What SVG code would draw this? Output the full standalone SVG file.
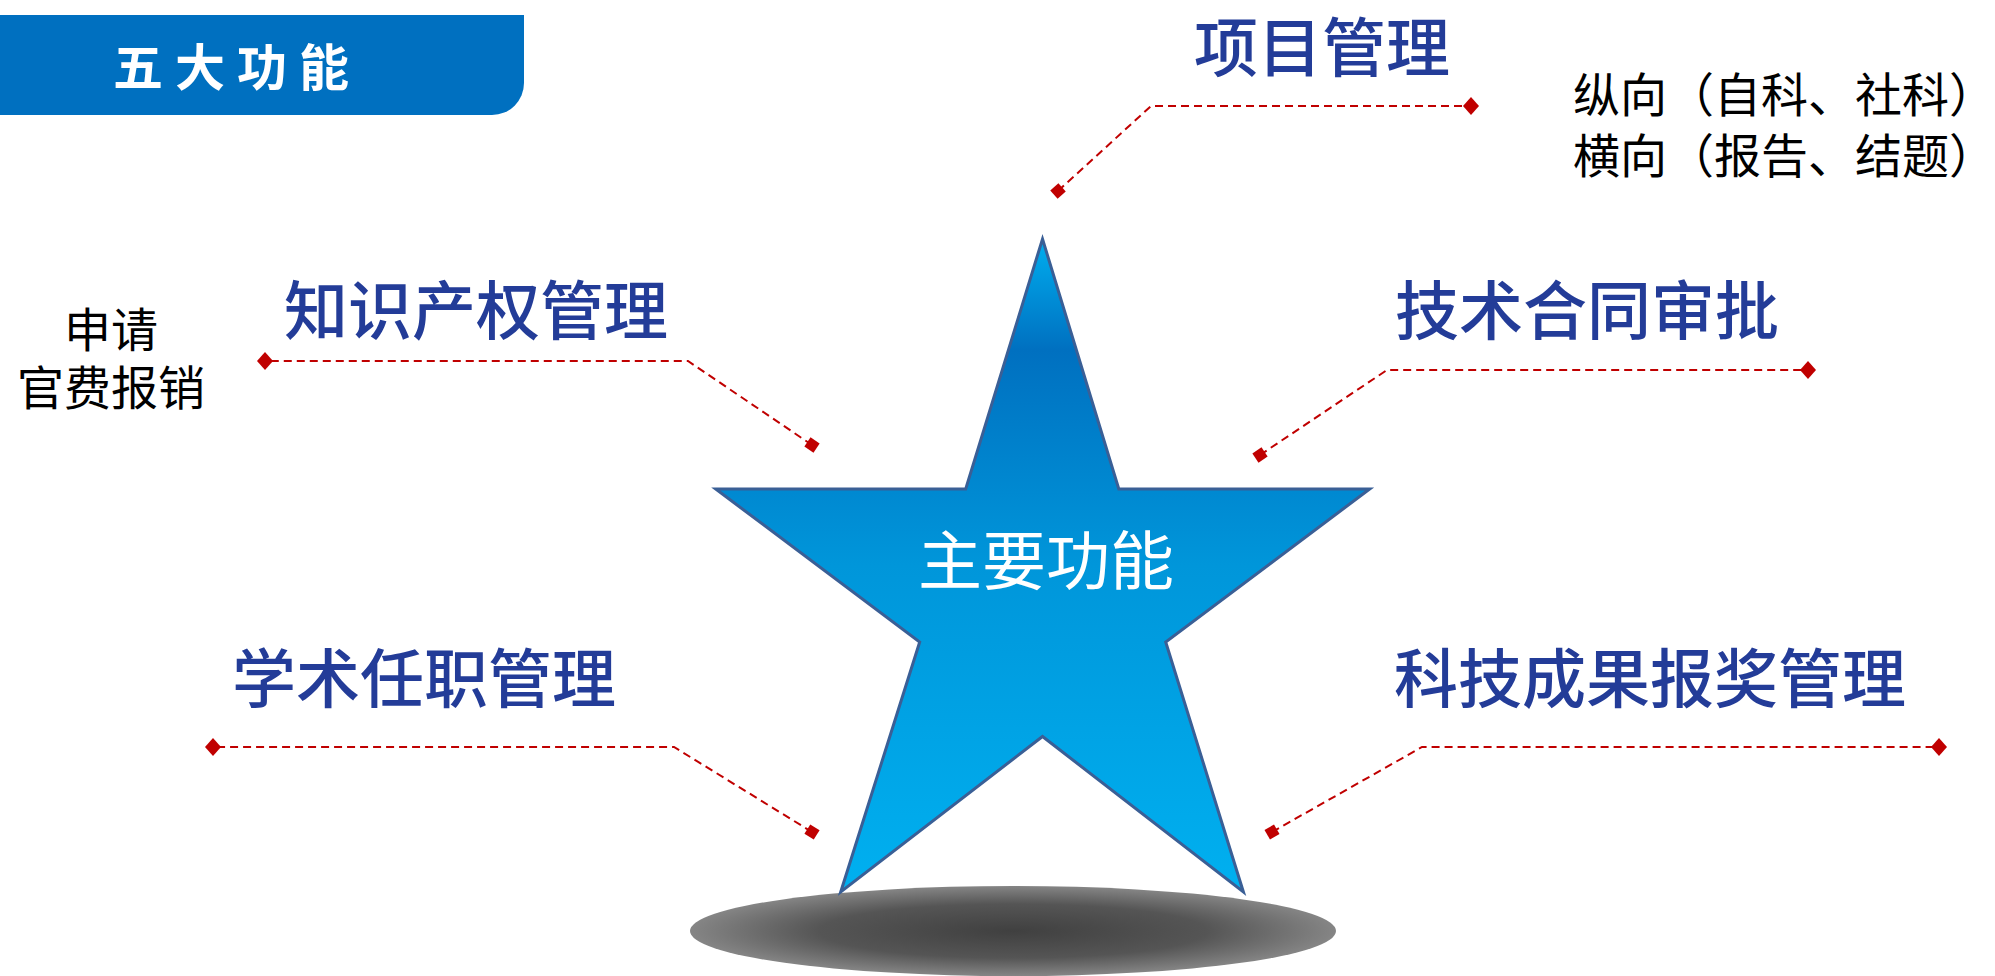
<svg xmlns="http://www.w3.org/2000/svg" width="1995" height="976" viewBox="0 0 1995 976">
  <defs>
    <linearGradient id="starGrad" x1="0" y1="239" x2="0" y2="892" gradientUnits="userSpaceOnUse">
      <stop offset="0" stop-color="#00AEEF"/>
      <stop offset="0.17" stop-color="#0070C0"/>
      <stop offset="0.5" stop-color="#0096DA"/>
      <stop offset="1" stop-color="#00B0F0"/>
    </linearGradient>
    <radialGradient id="shadowGrad" cx="0.5" cy="0.5" r="0.5">
      <stop offset="0" stop-color="#404040"/>
      <stop offset="0.6" stop-color="#555555"/>
      <stop offset="1" stop-color="#858585"/>
    </radialGradient>
    <style>
      .label { font-family: "Noto Sans CJK SC", "Noto Sans", sans-serif; font-size: 64px; font-weight: 500; fill: #233C98; }
      .note { font-family: "Noto Sans CJK SC", "Noto Sans", sans-serif; font-size: 47px; fill: #000000; }
      .link { fill: none; stroke: #C00000; stroke-width: 2; stroke-dasharray: 8 5; }
      .dot { fill: #C00000; }
    </style>
  </defs>

  <g id="header">
    <path d="M0 15 H524 V83 A32 32 0 0 1 492 115 H0 Z" fill="#0070C0"/>
    <text x="113" y="86" font-family="Noto Sans CJK SC, sans-serif" font-size="50" font-weight="700" fill="#FFFFFF" letter-spacing="12">五大功能</text>
  </g>

  <g id="shadow">
    <ellipse cx="1013" cy="931" rx="323" ry="45" fill="url(#shadowGrad)"/>
  </g>

  <g id="star">
    <polygon points="1042.5,239 1118.8,489 1369.7,489 1165.7,642 1243.4,892 1042.5,736.5 840.7,892 919.7,642 715.7,489 965.7,489" fill="url(#starGrad)" stroke="#3A5F96" stroke-width="3" stroke-linejoin="miter"/>
    <text x="1046" y="584" text-anchor="middle" font-family="Noto Sans CJK SC, sans-serif" font-size="64" fill="#FFFFFF">主要功能</text>
  </g>

  <g id="connectors">
    <polyline class="link" points="1058,191 1151,106 1471,106"/>
    <rect class="dot" x="-5.5" y="-5.5" width="11" height="11" transform="translate(1058,191) rotate(-42)"/>
    <polygon class="dot" points="1471,97 1479,106 1471,115 1463,106"/>

    <polyline class="link" points="812,445 688,361 265,361"/>
    <rect class="dot" x="-5.5" y="-5.5" width="11" height="11" transform="translate(812,445) rotate(34)"/>
    <polygon class="dot" points="265,352 273,361 265,370 257,361"/>

    <polyline class="link" points="1260,455 1387,370 1808,370"/>
    <rect class="dot" x="-5.5" y="-5.5" width="11" height="11" transform="translate(1260,455) rotate(-34)"/>
    <polygon class="dot" points="1808,361 1816,370 1808,379 1800,370"/>

    <polyline class="link" points="812,832 674,747 213,747"/>
    <rect class="dot" x="-5.5" y="-5.5" width="11" height="11" transform="translate(812,832) rotate(32)"/>
    <polygon class="dot" points="213,738 221,747 213,756 205,747"/>

    <polyline class="link" points="1272,832 1422,747 1939,747"/>
    <rect class="dot" x="-5.5" y="-5.5" width="11" height="11" transform="translate(1272,832) rotate(-30)"/>
    <polygon class="dot" points="1939,738 1947,747 1939,756 1931,747"/>
  </g>

  <g id="node-project">
    <text class="label" x="1194" y="71">项目管理</text>
    <text class="note" x="1573" y="112" font-size="46">纵向（自科、社科）</text>
    <text class="note" x="1573" y="173" font-size="46">横向（报告、结题）</text>
  </g>

  <g id="node-ip">
    <text class="label" x="284" y="334">知识产权管理</text>
    <text class="note" x="111" y="347" text-anchor="middle">申请</text>
    <text class="note" x="111" y="405" text-anchor="middle">官费报销</text>
  </g>

  <g id="node-contract">
    <text class="label" x="1395" y="334">技术合同审批</text>
  </g>

  <g id="node-title">
    <text class="label" x="232" y="702">学术任职管理</text>
  </g>

  <g id="node-award">
    <text class="label" x="1394" y="702">科技成果报奖管理</text>
  </g>
</svg>
